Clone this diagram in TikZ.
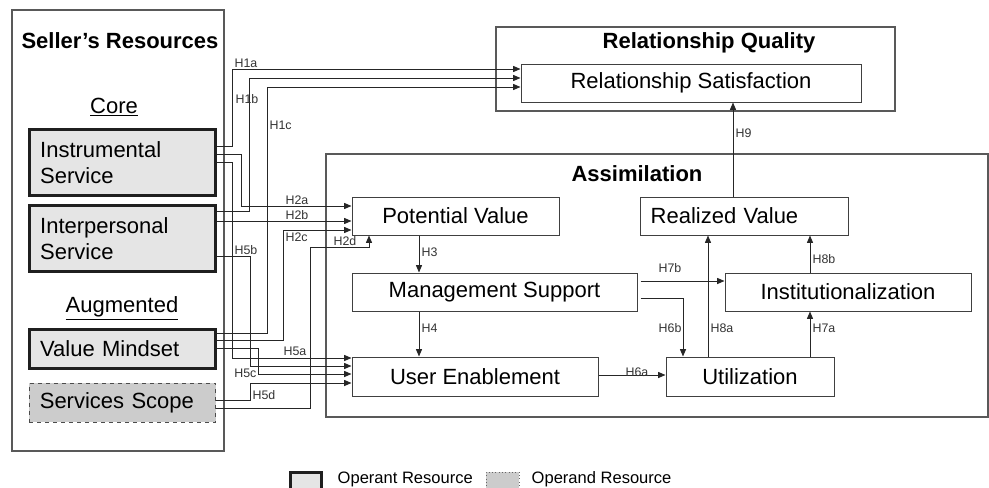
\documentclass[tikz,border=0pt]{standalone}
\usepackage{fontspec}
\setmainfont{Liberation Sans}
\usetikzlibrary{arrows.meta}

\newcommand{\bigtxt}{\fontsize{16.5}{20}\selectfont}
\newcommand{\hyptxt}{\fontsize{9.3}{11}\selectfont}
\newcommand{\keytxt}{\fontsize{12.4}{14}\selectfont}

\begin{document}
\begin{tikzpicture}[x=0.75pt, y=-0.75pt,
  frame/.style={rectangle, draw=black!65, line width=0.8pt, inner sep=0pt},
  construct/.style={rectangle, draw=black!75, line width=0.75pt, minimum height=28.5pt, font=\bigtxt},
  operant/.style={rectangle, draw=black!88, line width=2.25pt, fill=black!10, font=\bigtxt,
    align=left, inner xsep=8pt, text width=123.5pt},
  operand/.style={rectangle, draw=black!70, dashed, line width=0.75pt, fill=black!20, font=\bigtxt,
    align=left, inner xsep=8pt, text width=124pt},
  title/.style={font=\bigtxt\bfseries},
  hyp/.style={-{Triangle[length=5.5pt,width=4.5pt]}, line width=0.7pt, draw=black!85},
  lbl/.style={font=\hyptxt, inner sep=1pt, text=black!80}]
  \useasboundingbox (0,0) rectangle (989,487);

  % Seller's resources
  \node (SR) [frame, minimum width=159pt, minimum height=330.75pt] at (118,230.5) {};
  \node (SRtitle) [title] at (120,41) {Seller’s Resources};
  \node (core) [font=\bigtxt] at (114,107) {\underline{Core}};
  \node (IS) [operant, minimum height=49.5pt] at (122.5,162.5) {Instrumental\\Service};
  \node (IP) [operant, minimum height=49.5pt] at (122.5,238.5) {Interpersonal\\Service};
  \node (aug) [font=\bigtxt] at (122,308) {\underline{Augmented}};
  \node (VM) [operant, minimum height=29.25pt] at (122.5,349) {Value Mindset};
  \node (SS) [operand, minimum height=29.25pt] at (122.5,402.5) {Services Scope};

  % Relationship quality
  \node (RQ) [frame, minimum width=299.25pt, minimum height=63pt] at (695.5,69) {};
  \node (RQtitle) [title] at (709,43) {Relationship Quality};
  \node (RS) [construct, minimum width=255pt] at (691,83) {Relationship Satisfaction};

  % Assimilation
  \node (AS) [frame, minimum width=496.5pt, minimum height=197.25pt] at (657,285.5) {};
  \node (AStitle) [title] at (637,174) {Assimilation};
  \node (PV) [construct, minimum width=155.25pt] at (455.5,216) {Potential Value};
  \node (RV) [construct, align=left, inner xsep=8pt, text width=140pt] at (744,216) {Realized Value};
  \node (MS) [construct, minimum width=213.75pt] at (494.5,292) {Management Support};
  \node (II) [construct, minimum width=184.5pt] at (848,292) {Institutionalization};
  \node (UE) [construct, minimum width=184.5pt, minimum height=29.25pt] at (475,376.5) {User Enablement};
  \node (UT) [construct, minimum width=126pt, minimum height=29.25pt] at (750,376.5) {Utilization};

  % H1
  \draw [hyp] (IS.east |- 0,146) -| (232,69) -- (RS.west |- 0,69);
  \draw [hyp] (IP.east |- 0,211) -| (249,78) -- (RS.west |- 0,78);
  \draw [hyp] (VM.east |- 0,333) -| (267,87) -- (RS.west |- 0,87);
  \node (h1a) [lbl, anchor=south west] at (233,69) {H1a};
  \node (h1b) [lbl, anchor=west] at (234,99) {H1b};
  \node (h1c) [lbl, anchor=west] at (268,125) {H1c};
  % H2
  \draw [hyp] (IS.east |- 0,154) -| (241,206) -- (PV.west |- 0,206);
  \draw [hyp] (IP.east |- 0,221) -- (PV.west |- 0,221);
  \draw [hyp] (VM.east |- 0,340) -| (283,230) -- (PV.west |- 0,230);
  \draw [hyp] (SS.east |- 0,408) -| (310,247) -| (PV.south -| 369,0);
  \node (h2a) [lbl, anchor=south] at (297,206) {H2a};
  \node (h2b) [lbl, anchor=south] at (297,221) {H2b};
  \node (h2c) [lbl, anchor=north west] at (284,231) {H2c};
  \node (h2d) [lbl, anchor=south] at (345,247) {H2d};
  % H5
  \draw [hyp] (IS.east |- 0,162) -| (232,358) -- (UE.west |- 0,358);
  \draw [hyp] (IP.east |- 0,256) -| (250,366) -- (UE.west |- 0,366);
  \draw [hyp] (VM.east |- 0,348) -| (258,374) -- (UE.west |- 0,374);
  \draw [hyp] (SS.east |- 0,400) -| (250,383) -- (UE.west |- 0,383);
  \node (h5a) [lbl, anchor=south] at (295,357) {H5a};
  \node (h5b) [lbl, anchor=south] at (246,256) {H5b};
  \node (h5c) [lbl, anchor=east] at (258,373) {H5c};
  \node (h5d) [lbl, anchor=west] at (251,395) {H5d};
  % Assimilation paths
  \draw [hyp] (PV.south -| 419,0) -- (MS.north -| 419,0);
  \draw [hyp] (MS.south -| 419,0) -- (UE.north -| 419,0);
  \draw [hyp] (UE.east |- 0,375) -- (UT.west |- 0,375);
  \draw [hyp, shorten <=2.25pt] (MS.east |- 0,298) -| (UT.north -| 683,0);
  \draw [hyp] (UT.north -| 810,0) -- (II.south -| 810,0);
  \draw [hyp, shorten <=2.25pt] (MS.east |- 0,281) -- (II.west |- 0,281);
  \draw [hyp] (UT.north -| 708,0) -- (RV.south -| 708,0);
  \draw [hyp] (II.north -| 810,0) -- (RV.south -| 810,0);
  \draw [hyp] (RV.north -| 733,0) -- (RS.south -| 733,0);
  \node (h3) [lbl, anchor=west] at (420,252) {H3};
  \node (h4) [lbl, anchor=west] at (420,328) {H4};
  \node (h6a) [lbl, anchor=south] at (637,378) {H6a};
  \node (h6b) [lbl, anchor=east] at (683,328) {H6b};
  \node (h7a) [lbl, anchor=west] at (811,328) {H7a};
  \node (h7b) [lbl, anchor=south] at (670,274) {H7b};
  \node (h8a) [lbl, anchor=west] at (709,328) {H8a};
  \node (h8b) [lbl, anchor=west] at (811,259) {H8b};
  \node (h9) [lbl, anchor=west] at (734,133) {H9};

  % Key
  \node (opkey) [rectangle, draw=black!88, line width=2.25pt, fill=black!10, minimum width=23.25pt, minimum height=18pt] at (306,484) {};
  \node (optext) [font=\keytxt, anchor=west] at (333,479) {Operant Resource};
  \node (odkey) [rectangle, draw=black!60, dotted, line width=0.5pt, fill=black!20, minimum width=24.75pt, minimum height=18pt] at (502.5,484) {};
  \node (odtext) [font=\keytxt, anchor=west] at (527,479) {Operand Resource};
\end{tikzpicture}
\end{document}
